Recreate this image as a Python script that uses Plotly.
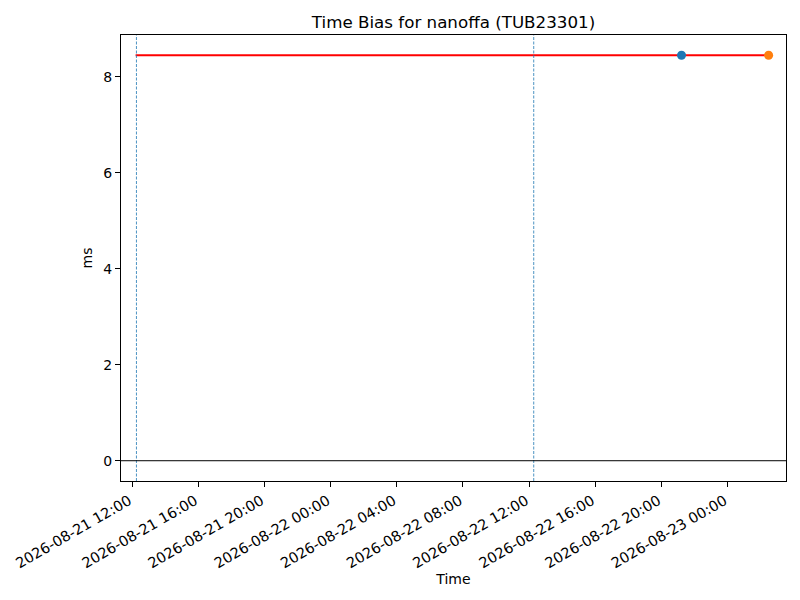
import plotly.graph_objects as go

# Data
bias_value = 8.45
line_times = ["2026-08-21 12:13", "2026-08-23 02:29"]
blue_time = ["2026-08-22 21:13"]
orange_time = ["2026-08-23 02:29"]
vline_times = ["2026-08-21 12:16", "2026-08-22 12:17"]
x_range = ["2026-08-21 11:20", "2026-08-23 03:32"]
y_range = [-0.4225, 8.8725]
tick_vals = ["2026-08-21 12:00", "2026-08-21 16:00", "2026-08-21 20:00",
             "2026-08-22 00:00", "2026-08-22 04:00", "2026-08-22 08:00",
             "2026-08-22 12:00", "2026-08-22 16:00", "2026-08-22 20:00",
             "2026-08-23 00:00"]
y_ticks = [0, 2, 4, 6, 8]

font = "DejaVu Sans"
fig = go.Figure()

for vt in vline_times:
    fig.add_shape(type="line", xref="x", yref="paper", x0=vt, x1=vt, y0=0, y1=1,
                  line=dict(color="#1f77b4", width=0.8, dash="3px,1.5px"), layer="above")
fig.add_shape(type="line", xref="paper", yref="y", x0=0, x1=1, y0=0, y1=0,
              line=dict(color="black", width=1), layer="above")

fig.add_trace(go.Scatter(x=line_times, y=[bias_value] * len(line_times), mode="lines",
                         line=dict(color="red", width=2), showlegend=False))
fig.add_trace(go.Scatter(x=blue_time, y=[bias_value], mode="markers",
                         marker=dict(color="#1f77b4", size=9), showlegend=False))
fig.add_trace(go.Scatter(x=orange_time, y=[bias_value], mode="markers",
                         marker=dict(color="#ff7f0e", size=9), showlegend=False))

fig.update_layout(
    width=800, height=600,
    margin=dict(l=121, r=14, t=35, b=119),
    paper_bgcolor="white", plot_bgcolor="white",
    font=dict(family=font, size=14, color="black"),
    title=dict(text="Time Bias for nanoffa (TUB23301)", xref="paper", x=0.5, xanchor="center",
               y=1 - 22 / 600, yanchor="middle", font=dict(size=16.7), automargin=False),
    xaxis=dict(range=x_range, tickmode="array", tickvals=tick_vals,
               ticktext=[t for t in tick_vals], tickangle=-30, automargin=False,
               tickfont=dict(size=14.5), ticklabelshift=-3, ticklabelstandoff=0,
               showgrid=False, zeroline=False, showline=True, linecolor="black",
               linewidth=1, mirror=True, ticks="outside", ticklen=5, tickcolor="black",
               title=dict(text="Time", font=dict(size=14), standoff=0)),
    yaxis=dict(range=y_range, tickmode="array", tickvals=y_ticks, automargin=False,
               showgrid=False, zeroline=False, showline=True, linecolor="black",
               linewidth=1, mirror=True, ticks="outside", ticklen=5, tickcolor="black",
               title=dict(text="ms", font=dict(size=14), standoff=7)),
)

fig.write_html("out.html", config={"displayModeBar": False},
               post_script="document.body.style.margin='0';document.body.style.overflow='hidden';")
